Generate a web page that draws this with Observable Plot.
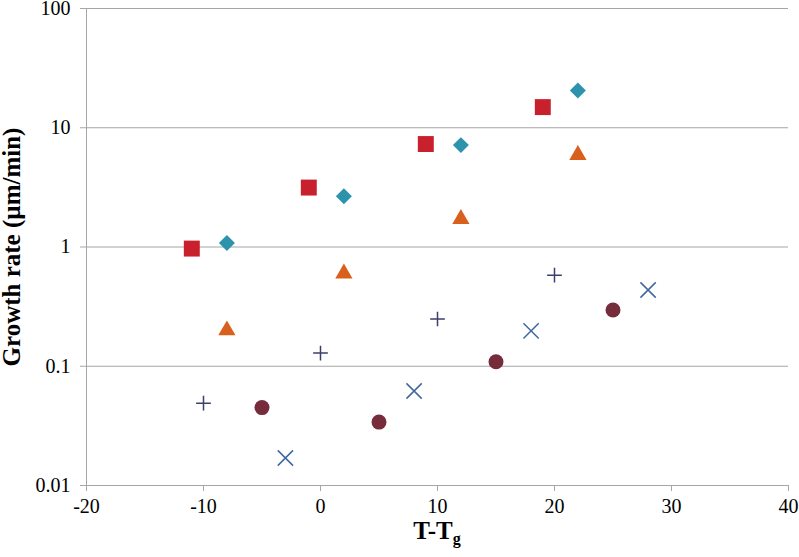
<!DOCTYPE html>
<html>
<head>
<meta charset="utf-8">
<script src="https://cdn.jsdelivr.net/npm/d3@7"></script>
<script src="https://cdn.jsdelivr.net/npm/@observablehq/plot@0.6"></script>
<style>
  html, body { margin: 0; padding: 0; background: #fff; }
  #chart svg { display: block; }
</style>
</head>
<body>
<div id="chart"></div>
<script>
// Series data (x = T - Tg, y = growth rate µm/min)
const squareX = [-11, -1, 9, 19];
const squareY = [0.97, 3.15, 7.3, 14.9];
const diamondX = [-8, 2, 12, 22];
const diamondY = [1.08, 2.67, 7.15, 20.5];
const triangleX = [-8, 2, 12, 22];
const triangleY = [0.2, 0.6, 1.72, 5.9];
const plusX = [-10, 0, 10, 20];
const plusY = [0.049, 0.129, 0.249, 0.58];
const circleX = [-5, 5, 15, 25];
const circleY = [0.045, 0.034, 0.109, 0.296];
const timesX = [-3, 8, 18, 28];
const timesY = [0.017, 0.062, 0.198, 0.436];

const xTicks = [-20, -10, 0, 10, 20, 30, 40];
const yTicks = [0.01, 0.1, 1, 10, 100];
const yTickLabels = ["0.01", "0.1", "1", "10", "100"];
const xLabelMain = "T-T";
const xLabelSub = "g";
const yLabel = "Growth rate (µm/min)";

const pts = (xs, ys) => xs.map((x, i) => ({x, y: ys[i]}));

const gridCol = "#a6a6a6";
const serif = "Liberation Serif";

const plot = Plot.plot({
  width: 799,
  height: 557,
  marginLeft: 86,
  marginRight: 11,
  marginTop: 8,
  marginBottom: 72,
  style: {fontFamily: serif, fontSize: "20px", color: "#000", background: "#fff"},
  x: {domain: [-20, 40]},
  y: {type: "log", domain: [0.01, 100]},
  marks: [
    Plot.gridY(yTicks.filter(d => d > 0.01), {stroke: gridCol, strokeOpacity: 1, strokeWidth: 1}),
    Plot.ruleX([-20], {stroke: gridCol, strokeWidth: 1}),
    Plot.ruleY([0.01], {stroke: gridCol, strokeWidth: 1}),
    Plot.axisX(xTicks, {tickSize: 6, tickPadding: 7, stroke: gridCol, fill: "#000", label: null, fontFamily: serif, fontSize: 20, tickFormat: d => d < 0 ? "-" + Math.abs(d) : String(d)}),
    Plot.axisY(yTicks, {tickSize: 6, tickPadding: 10, stroke: gridCol, fill: "#000", label: null, fontFamily: serif, fontSize: 20, tickFormat: d => yTickLabels[yTicks.indexOf(d)]}),
    Plot.dot(pts(squareX, squareY), {x: "x", y: "y", symbol: "square", r: 9, fill: "#c8202c", stroke: "none"}),
    Plot.dot(pts(diamondX, diamondY), {x: "x", y: "y", symbol: "diamond2", r: 7.2, fill: "#2d93ad", stroke: "none"}),
    Plot.dot(pts(triangleX, triangleY), {x: "x", y: "y", symbol: "triangle", r: 6.4, fill: "#d8601c", stroke: "none"}),
    Plot.dot(pts(circleX, circleY), {x: "x", y: "y", symbol: "circle", r: 7.5, fill: "#772c3c", stroke: "none"}),
    Plot.dot(pts(plusX, plusY), {x: "x", y: "y", symbol: "plus", r: 4.8, stroke: "#3b3f6b", strokeWidth: 1.5, fill: "none"}),
    Plot.dot(pts(timesX, timesY), {x: "x", y: "y", symbol: "times", r: 7, stroke: "#4068a0", strokeWidth: 1.5, fill: "none"})
  ]
});

const svg = d3.select(plot);
const xl = svg.append("text")
  .attr("x", 437).attr("y", 539)
  .attr("text-anchor", "middle")
  .attr("font-family", serif)
  .attr("font-weight", "bold")
  .attr("font-size", 25)
  .attr("fill", "#000");
xl.append("tspan").text(xLabelMain);
xl.append("tspan").attr("font-size", 16).attr("dy", 5).text(xLabelSub);

svg.append("text")
  .attr("transform", "translate(20,247) rotate(-90)")
  .attr("text-anchor", "middle")
  .attr("font-family", serif)
  .attr("font-weight", "bold")
  .attr("font-size", 25)
  .attr("fill", "#000")
  .text(yLabel);

document.getElementById("chart").appendChild(plot);
</script>
</body>
</html>
